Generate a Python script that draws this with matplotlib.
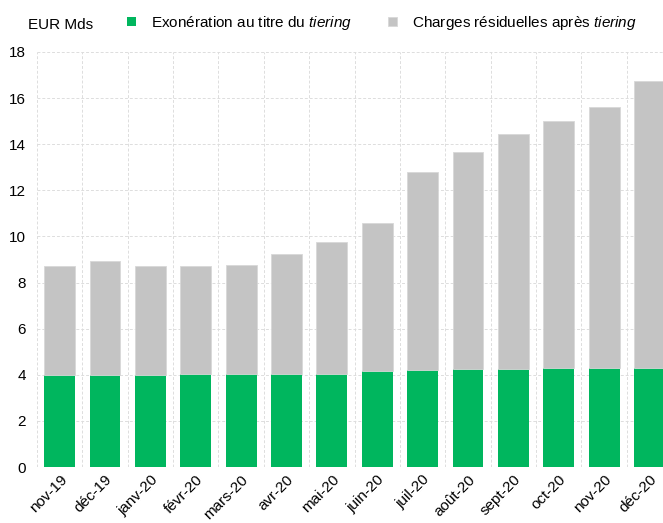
from matplotlib import pyplot as plt
import numpy as np

# Data (EUR Mds)
months = ['nov-19', 'déc-19', 'janv-20', 'févr-20', 'mars-20', 'avr-20', 'mai-20',
          'juin-20', 'juil-20', 'août-20', 'sept-20', 'oct-20', 'nov-20', 'déc-20']
exoneration = [4.0, 4.0, 4.0, 4.05, 4.05, 4.05, 4.05, 4.15, 4.2, 4.25, 4.25, 4.3, 4.3, 4.3]
total = [8.7, 8.92, 8.7, 8.7, 8.75, 9.25, 9.75, 10.6, 12.8, 13.65, 14.45, 15.0, 15.6, 16.75]
charges = [t - e for t, e in zip(total, exoneration)]

green = '#00b65e'
grey = '#c4c4c4'

plt.rcParams['font.family'] = ['Liberation Sans', 'DejaVu Sans']
plt.rcParams['mathtext.fontset'] = 'custom'
plt.rcParams['mathtext.it'] = 'Liberation Sans:italic'
plt.rcParams['mathtext.rm'] = 'Liberation Sans'

fig = plt.figure(figsize=(6.63, 5.23), dpi=100)
ax = fig.add_axes([0.0558, 0.107, 0.958, 0.7936])

x = np.arange(len(months))
ax.bar(x, exoneration, width=0.68, color=green, zorder=3,
       label='Exonération au titre du $\\it{tiering}$')
ax.bar(x, charges, width=0.68, bottom=exoneration, color=grey, zorder=3,
       edgecolor='#d8d8d8', linewidth=0.6,
       label='Charges résiduelles après $\\it{tiering}$')

ax.set_xlim(-0.5, len(months) - 0.5)
ax.set_ylim(0, 18)
ax.set_yticks(np.arange(0, 19, 2))
ax.set_xticks(x)
ax.set_xticklabels(months, rotation=45, ha='right', rotation_mode='anchor', fontsize=11)
ax.tick_params(axis='y', labelsize=11, length=0, pad=8)
ax.tick_params(axis='x', length=0, pad=4)

# dashed grid: horizontal at ticks, vertical at category boundaries
for yv in np.arange(2, 19, 2):
    ax.axhline(yv, color='#dddddd', linestyle=(0, (3, 2)), linewidth=0.7, zorder=1)
for xv in np.arange(-0.5, len(months), 1):
    ax.axvline(xv, color='#dddddd', linestyle=(0, (3, 2)), linewidth=0.7, zorder=1)

for s in ax.spines.values():
    s.set_visible(False)

fig.text(0.042, 0.952, 'EUR Mds', fontsize=11, va='center')
ax.legend(loc='center left', bbox_to_anchor=(0.12, 1.07), ncol=2, frameon=False,
          fontsize=11, handlelength=0.6, handleheight=0.6, columnspacing=2.3,
          handletextpad=1.0)

plt.savefig('out.png', dpi=100)
